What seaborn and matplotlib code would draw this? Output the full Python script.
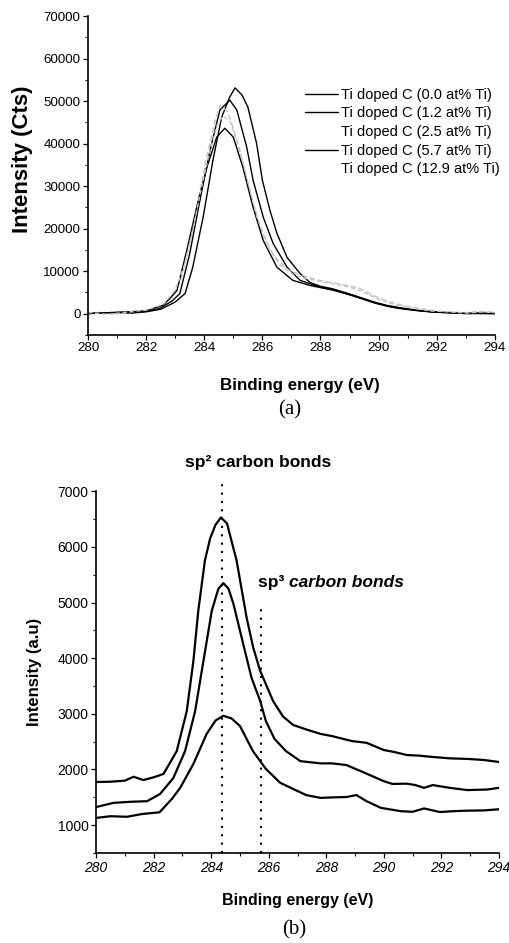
import pandas as pd
import numpy as np
import matplotlib
matplotlib.use("Agg")
import matplotlib.pyplot as plt
import seaborn as sns
from matplotlib.ticker import MultipleLocator
from matplotlib.lines import Line2D

# ---- panel (a): C1s spectra, Ti doped C ----
labels_a = ["Ti doped C (0.0 at% Ti)", "Ti doped C (1.2 at% Ti)", "Ti doped C (2.5 at% Ti)",
            "Ti doped C (5.7 at% Ti)", "Ti doped C (12.9 at% Ti)"]

e_00 = [280.0, 280.5, 281.0, 281.5, 282.0, 282.5, 283.0, 283.34, 283.6, 283.96, 284.3, 284.6, 284.88,
        285.06, 285.3, 285.5, 285.8, 286.0, 286.26, 286.5, 286.85, 287.3, 287.64, 288.0, 288.43, 289.0,
        289.36, 289.9, 290.3, 290.7, 291.3, 291.9, 292.5, 293.0, 293.5, 294.0]
i_00 = [0, 100, 200, 100, 400, 1000, 2700, 4700, 10800, 22600, 36100, 46200, 51000,
        53100, 51400, 48600, 40100, 31400, 24300, 18900, 13200, 9400, 7300, 6400, 5800, 4600,
        3800, 2600, 1900, 1400, 800, 400, 200, 0, 100, 0]

e_12 = [280.0, 281.0, 282.0, 282.5, 282.9, 283.16, 283.5, 283.85, 284.2, 284.54, 284.88, 285.12, 285.46,
        285.68, 286.03, 286.37, 286.85, 287.3, 287.64, 288.0, 288.43, 289.0, 289.36, 289.9, 290.3, 290.7,
        291.3, 291.9, 292.5, 293.0, 294.0]
i_12 = [0, 200, 500, 1300, 3000, 4700, 14100, 26600, 38400, 47900, 50200, 47900, 39200,
        31400, 22700, 16500, 10900, 7800, 7000, 6200, 5600, 4500, 3700, 2500, 1800, 1300,
        750, 350, 200, 50, 0]

e_25 = [280.0, 280.5, 281.0, 281.5, 282.0, 282.5, 282.9, 283.2, 283.5, 283.8, 284.1, 284.4, 284.55, 284.8,
        285.1, 285.4, 285.7, 286.0, 286.4, 286.9, 287.4, 287.7, 288.1, 288.57, 289.0, 289.36, 289.8,
        290.3, 290.9, 291.5, 292.0, 292.5, 293.0, 293.5, 294.0]
i_25 = [0, 300, -100, 400, 700, 1600, 3800, 8200, 16500, 27000, 37500, 46000, 49000, 47500,
        41500, 33500, 25500, 19000, 13500, 10200, 8900, 8250, 7600, 7070, 6500, 5900, 4300,
        2900, 1800, 1100, 600, 300, 200, 500, 300]

e_57 = [280.0, 281.0, 282.0, 282.6, 283.06, 283.4, 283.74, 284.09, 284.43, 284.71, 285.0, 285.33, 285.68,
        286.03, 286.5, 287.05, 287.64, 288.0, 288.43, 289.0, 289.36, 289.9, 290.3, 290.7, 291.3, 291.9,
        292.5, 293.0, 294.0]
i_57 = [0, 300, 600, 2000, 5400, 14900, 25000, 34400, 41500, 43600, 41500, 34400, 25000,
        17200, 10900, 7800, 6600, 6100, 5500, 4400, 3600, 2400, 1700, 1200, 700, 300,
        150, 0, 0]

e_129 = [280.0, 280.7, 281.4, 282.0, 282.6, 283.0, 283.3, 283.6, 283.9, 284.2, 284.45, 284.65, 284.9,
         285.2, 285.5, 285.8, 286.2, 286.6, 287.1, 287.6, 288.0, 288.5, 289.0, 289.5, 290.0, 290.6,
         291.2, 291.8, 292.4, 293.0, 293.6, 294.0]
i_129 = [200, -200, 400, 800, 2200, 5500, 11000, 19500, 29500, 38500, 44500, 46500, 45000,
         39000, 31000, 23000, 15500, 11500, 9000, 8100, 7500, 6900, 6200, 5000, 3300, 2000,
         1200, 600, 400, 100, 400, 200]

# ---- panel (b): sp2 / sp3 spectra ----
e_b1 = [280.0, 280.5, 281.0, 281.3, 281.64, 282.0, 282.34, 282.8, 283.15, 283.38, 283.55, 283.78, 283.96,
        284.15, 284.34, 284.55, 284.88, 285.23, 285.46, 285.7, 286.15, 286.5, 286.85, 287.3, 287.8, 288.2,
        288.9, 289.4, 290.0, 290.4, 290.8, 291.2, 291.7, 292.3, 292.9, 293.5, 294.0]
i_b1 = [1775, 1780, 1800, 1870, 1810, 1860, 1920, 2330, 3050, 3955, 4855, 5757, 6150,
        6400, 6530, 6420, 5760, 4730, 4190, 3775, 3230, 2950, 2800, 2720, 2640, 2600,
        2510, 2480, 2350, 2310, 2260, 2250, 2225, 2200, 2190, 2170, 2135]

e_b2 = [280.0, 280.6, 281.2, 281.77, 282.22, 282.68, 283.09, 283.44, 283.73, 284.02, 284.25, 284.42, 284.6,
        284.77, 285.11, 285.4, 285.7, 285.9, 286.2, 286.6, 287.1, 287.8, 288.2, 288.7, 289.2, 289.6,
        290.0, 290.3, 290.8, 291.1, 291.4, 291.7, 292.3, 292.9, 293.6, 294.0]
i_b2 = [1325, 1400, 1420, 1430, 1560, 1845, 2330, 3050, 3955, 4855, 5250, 5350, 5250,
        4980, 4260, 3650, 3235, 2870, 2550, 2330, 2150, 2110, 2110, 2080, 1970, 1880,
        1790, 1740, 1745, 1720, 1670, 1720, 1670, 1630, 1640, 1670]

e_b3 = [280.0, 280.5, 281.07, 281.6, 282.2, 282.63, 282.92, 283.38, 283.84, 284.15, 284.42, 284.7, 285.0,
        285.45, 285.9, 286.4, 286.85, 287.3, 287.8, 288.3, 288.7, 289.05, 289.4, 289.9, 290.6, 291.0,
        291.4, 291.95, 292.4, 292.9, 293.5, 294.0]
i_b3 = [1130, 1160, 1150, 1200, 1230, 1470, 1670, 2100, 2640, 2880, 2965, 2920, 2780,
        2330, 2010, 1760, 1650, 1540, 1490, 1500, 1505, 1540, 1430, 1310, 1250, 1240,
        1300, 1235, 1250, 1260, 1265, 1285]

sp2_position = 284.38
sp3_position = 285.73

# long-form tables for seaborn
series_a = [(e_00, i_00), (e_12, i_12), (e_25, i_25), (e_57, i_57), (e_129, i_129)]
df_a = pd.concat([pd.DataFrame({"energy": e, "intensity": i, "sample": lab})
                  for lab, (e, i) in zip(labels_a, series_a)], ignore_index=True)
labels_b = ["s1", "s2", "s3"]
series_b = [(e_b1, i_b1), (e_b2, i_b2), (e_b3, i_b3)]
df_b = pd.concat([pd.DataFrame({"energy": e, "intensity": i, "sample": lab})
                  for lab, (e, i) in zip(labels_b, series_b)], ignore_index=True)

sns.set_theme(style="ticks")
plt.rcParams["font.family"] = ["Liberation Sans", "DejaVu Sans"]
plt.rcParams["text.color"] = "black"
plt.rcParams["axes.labelcolor"] = "black"
plt.rcParams["xtick.color"] = "black"
plt.rcParams["ytick.color"] = "black"

colors_a = {labels_a[0]: "black", labels_a[1]: "black", labels_a[2]: "#c4c4c4",
            labels_a[3]: "black", labels_a[4]: "#c4c4c4"}
dashes_a = {labels_a[0]: "", labels_a[1]: "", labels_a[2]: (4, 2),
            labels_a[3]: "", labels_a[4]: (3, 2)}

fig = plt.figure(figsize=(5.09, 9.43), dpi=100)
ax_a = fig.add_axes([0.173, 0.645, 0.799, 0.338])
ax_b = fig.add_axes([0.189, 0.0955, 0.791, 0.3835])

# (a)
sns.lineplot(data=df_a, x="energy", y="intensity", hue="sample", style="sample",
             palette=colors_a, dashes=dashes_a, estimator=None, lw=1.0, legend=False, ax=ax_a)
ax_a.set_xlim(280, 294)
ax_a.set_ylim(-5000, 70000)
ax_a.xaxis.set_major_locator(MultipleLocator(2))
ax_a.xaxis.set_minor_locator(MultipleLocator(1))
ax_a.yaxis.set_major_locator(MultipleLocator(10000))
ax_a.yaxis.set_minor_locator(MultipleLocator(5000))
ax_a.set_xlabel("Binding energy (eV)", fontsize=12.2, fontweight="bold")
ax_a.set_ylabel("Intensity (Cts)", fontsize=16, fontweight="bold")
ax_a.xaxis.set_label_coords(0.52, -0.135)
ax_a.yaxis.set_label_coords(-0.135, 0.55)

handles = []
for lab in labels_a:
    vis = colors_a[lab] == "black"
    handles.append(Line2D([], [], color="black", lw=1.0, alpha=1.0 if vis else 0.0))
ax_a.legend(handles, labels_a, loc="upper left", bbox_to_anchor=(0.599, 0.907),
            bbox_transform=fig.transFigure, frameon=False, fontsize=10.5,
            handlelength=2.3, handletextpad=0.2, labelspacing=0.32, borderpad=0, borderaxespad=0)

# (b)
sns.lineplot(data=df_b, x="energy", y="intensity", hue="sample",
             palette=["black"] * 3, estimator=None, lw=1.6, legend=False, ax=ax_b)
ax_b.vlines(sp2_position, 500, 7140, colors="black", linestyles=(0, (1, 3)), lw=1.5, clip_on=False)
ax_b.vlines(sp3_position, 500, 4950, colors="black", linestyles=(0, (1, 3)), lw=1.5, clip_on=False)
ax_b.set_xlim(280, 294)
ax_b.set_ylim(500, 7000)
ax_b.xaxis.set_major_locator(MultipleLocator(2))
ax_b.xaxis.set_minor_locator(MultipleLocator(1))
ax_b.yaxis.set_major_locator(MultipleLocator(1000))
ax_b.yaxis.set_minor_locator(MultipleLocator(500))
ax_b.set_xlabel("Binding energy (eV)", fontsize=11.5, fontweight="bold")
ax_b.set_ylabel("Intensity (a.u)", fontsize=12, fontweight="bold")
ax_b.xaxis.set_label_coords(0.501, -0.11)
ax_b.yaxis.set_label_coords(-0.134, 0.5)
for t in ax_b.get_xticklabels():
    t.set_style("italic")

ax_b.text(285.63, 7520, "sp² carbon bonds", ha="center", va="center",
          fontsize=12.5, fontweight="bold")
t1 = ax_b.text(285.63, 5360, "sp³ ", ha="left", va="center", fontsize=12.5, fontweight="bold")
ax_b.annotate("carbon bonds", xy=(1, 0), xycoords=t1, ha="left", va="bottom",
              fontsize=12.5, fontweight="bold", fontstyle="italic")

for ax in (ax_a, ax_b):
    sns.despine(ax=ax)
    ax.tick_params(which="major", direction="out", length=3.5, width=0.9, pad=2, labelsize=10,
                   colors="black")
    ax.tick_params(which="minor", direction="out", length=2, width=0.8, colors="black")
    for s in ("left", "bottom"):
        ax.spines[s].set_linewidth(1.2)
        ax.spines[s].set_color("black")
ax_a.tick_params(labelsize=9.6)

fig.text(290 / 509, 1 - 410 / 943, "(a)", ha="center", va="center", fontsize=15,
         family=["Liberation Serif", "DejaVu Serif"])
fig.text(294 / 509, 1 - 930 / 943, "(b)", ha="center", va="center", fontsize=15,
         family=["Liberation Serif", "DejaVu Serif"])

fig.savefig("out.png", dpi=100, facecolor="white")
